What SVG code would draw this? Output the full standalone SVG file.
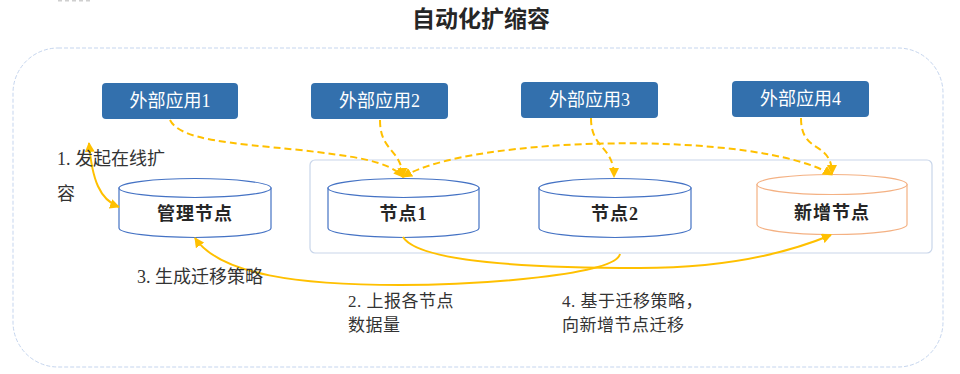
<svg xmlns="http://www.w3.org/2000/svg" width="960" height="374" viewBox="0 0 960 374">
<style>
.title{font-family:"Noto Sans CJK SC","Noto Sans",sans-serif;font-size:23px;font-weight:bold;fill:#262626}
.app rect{fill:#3370ad}
.app text{font-family:"Noto Sans CJK SC",sans-serif;font-size:18px;fill:#fff;text-anchor:middle}
.num{font-family:"Liberation Serif",serif}
.cyl path,.cyl ellipse{fill:#fff;stroke:#4472c4;stroke-width:1.2}
.cyl.new path,.cyl.new ellipse{stroke:#f4b183}
.cyl text{font-family:"Noto Sans CJK SC",sans-serif;font-size:18px;font-weight:bold;fill:#262626;text-anchor:middle;letter-spacing:1px}
.lbl{font-family:"Noto Sans CJK SC",sans-serif;font-size:18px;fill:#333}
.lbl2{font-family:"Noto Sans CJK SC",sans-serif;font-size:17px;fill:#333;letter-spacing:0.5px}
.dash{fill:none;stroke:#ffc000;stroke-width:2;stroke-dasharray:7 4}
.solid{fill:none;stroke:#ffc000;stroke-width:2}
</style>
<defs>
<marker id="ah" viewBox="0 0 10 10" refX="9" refY="5" markerWidth="10" markerHeight="10" markerUnits="userSpaceOnUse" orient="auto-start-reverse">
<path d="M0,0 L10,5 L0,10 z" fill="#ffc000"/>
</marker>
</defs>
<rect width="960" height="374" fill="#fff"/>
<line x1="58" y1="0.8" x2="92" y2="0.8" stroke="#cfcfcf" stroke-width="1.5" stroke-dasharray="4 3"/>
<text class="title" x="481" y="27" text-anchor="middle">自动化扩缩容</text>
<rect x="13" y="48" width="930" height="319" rx="45" ry="45" fill="none" stroke="#c5d5ee" stroke-width="1" stroke-dasharray="4 2"/>
<rect id="cluster" x="310" y="160" width="622" height="93" rx="5" ry="5" fill="none" stroke="#c9d6ea" stroke-width="1.2"/>

<g id="app1" class="app"><rect x="102" y="83" width="136" height="36" rx="4"/><text x="170" y="107">外部应用<tspan class="num">1</tspan></text></g>
<g id="app2" class="app"><rect x="311" y="83" width="137" height="36" rx="4"/><text x="379.5" y="107">外部应用<tspan class="num">2</tspan></text></g>
<g id="app3" class="app"><rect x="521" y="82" width="137" height="36" rx="4"/><text x="589.5" y="106">外部应用<tspan class="num">3</tspan></text></g>
<g id="app4" class="app"><rect x="732" y="81" width="137" height="36" rx="4"/><text x="800.5" y="105">外部应用<tspan class="num">4</tspan></text></g>

<g id="mgr" class="cyl"><path d="M119,188 L119,228 A76,9.5 0 0 0 271,228 L271,188 Z"/><ellipse cx="195" cy="188" rx="76" ry="9.5"/><text x="195" y="220">管理节点</text></g>
<g id="node1" class="cyl"><path d="M328,188 L328,228 A75.5,9.5 0 0 0 479,228 L479,188 Z"/><ellipse cx="403.5" cy="188" rx="75.5" ry="9.5"/><text x="403.5" y="220">节点<tspan class="num">1</tspan></text></g>
<g id="node2" class="cyl"><path d="M539,188 L539,228 A76,9.5 0 0 0 691,228 L691,188 Z"/><ellipse cx="615" cy="188" rx="76" ry="9.5"/><text x="615" y="220">节点<tspan class="num">2</tspan></text></g>
<g id="newnode" class="cyl new"><path d="M757,184.5 L757,224.5 A75,10 0 0 0 907,224.5 L907,184.5 Z"/><ellipse cx="832" cy="184.5" rx="75" ry="10"/><text x="832" y="219">新增节点</text></g>

<g id="connectors">
<path class="dash" d="M170,120 C180,140 230,143 300,150 C350,156 388,160 403,177" marker-end="url(#ah)"/>
<path class="dash" d="M380,120 C380,152 401,148 403,177" marker-end="url(#ah)"/>
<path class="dash" d="M403,177 C470,135 760,130 832,175" marker-start="url(#ah)" marker-end="url(#ah)"/>
<path class="dash" d="M591,118 C591,150 614,145 614,177" marker-end="url(#ah)"/>
<path class="dash" d="M801,118 C801,155 832,140 832,174" marker-end="url(#ah)"/>
<path class="solid" d="M89,143 C92,180 100,200 119,207" marker-start="url(#ah)" marker-end="url(#ah)"/>
<path class="solid" d="M620,254 C615,275 480,285 400,285 C300,285 220,275 195,238" marker-end="url(#ah)"/>
<path class="solid" d="M403,237 C420,265 560,268 640,268 C730,268 790,252 831,235" marker-end="url(#ah)"/>
</g>

<g id="labels">
<text class="lbl" x="57" y="165"><tspan class="num">1. </tspan>发起在线扩<tspan x="57" y="200">容</tspan></text>
<text class="lbl" x="137" y="283"><tspan class="num">3. </tspan>生成迁移策略</text>
<text class="lbl2" x="348" y="307"><tspan class="num">2. </tspan>上报各节点<tspan x="348" y="331">数据量</tspan></text>
<text class="lbl2" x="562" y="307"><tspan class="num">4. </tspan>基于迁移策略，<tspan x="562" y="331">向新增节点迁移</tspan></text>
</g>
</svg>
